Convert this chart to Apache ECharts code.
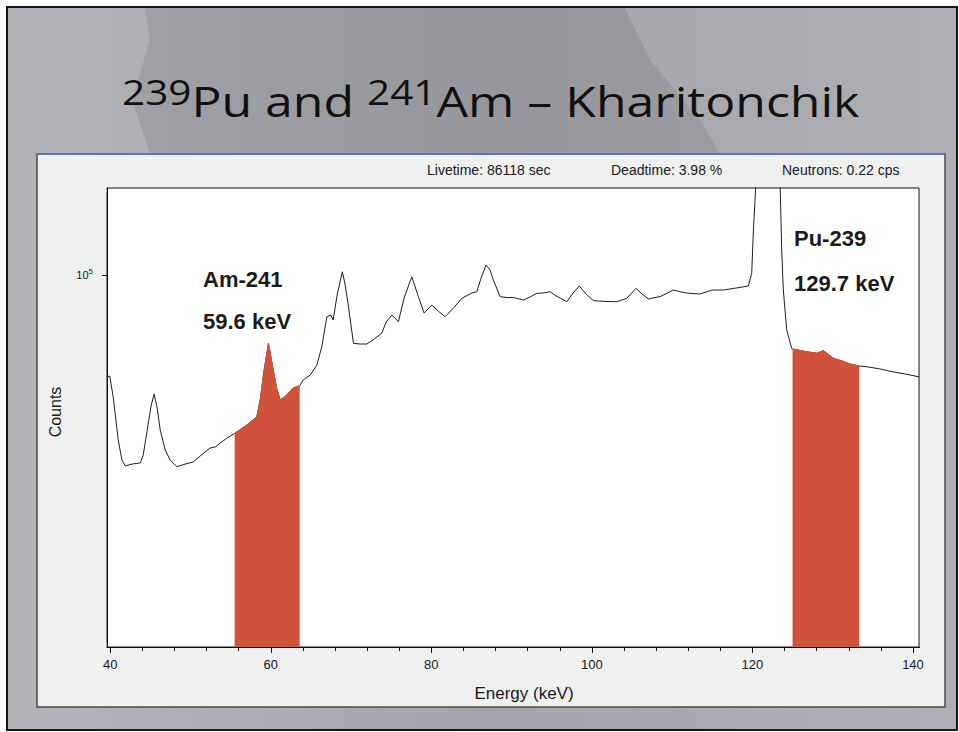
<!DOCTYPE html>
<html><head><meta charset="utf-8">
<script src="https://cdn.jsdelivr.net/npm/echarts@6/dist/echarts.min.js"></script>
<style>html,body{margin:0;padding:0;background:#fff;}#c{width:959px;height:732px;}</style>
</head><body><div id="c"></div>
<script>
// Energy (keV) and counts
const energy = [39.6, 39.94, 40.37, 41.0, 41.46, 41.87, 42.74, 43.74, 44.11, 44.61,
  45.11, 45.48, 45.85, 46.23, 46.85, 47.47, 48.31, 49.34, 50.34, 51.21,
  52.45, 53.08, 53.70, 54.57, 55.5, 57.02, 58.27, 58.68, 59.18, 59.71,
  60.30, 60.73, 61.17, 62.00, 62.79, 63.6, 64.03, 64.91, 65.74, 66.36,
  66.99, 67.48, 67.77, 68.27, 68.92, 69.27, 69.68, 70.30, 71.13, 71.97,
  72.75, 73.84, 74.37, 75.08, 75.90, 76.61, 77.57, 78.39, 79.10, 80.06,
  80.85, 81.72, 82.75, 83.80, 85.04, 85.67, 86.20, 86.82, 87.32, 87.73,
  88.57, 89.44, 90.22, 91.47, 92.30, 93.14, 93.92, 94.79, 95.54, 96.04,
  96.87, 97.66, 98.44, 99.28, 100.19, 101.64, 103.10, 104.35, 105.50, 106.25,
  107.04, 107.87, 108.49, 110.15, 111.73, 113.47, 114.97, 116.38, 117.96, 119.49,
  119.91, 120.11, 120.32, 120.53, 121.0, 121.8, 122.6, 123.2, 123.44, 123.65,
  123.85, 124.27, 124.89, 125.0, 126.55, 128.01, 128.83, 130.08, 131.16, 132.16,
  133.3, 134.24, 135.89, 137.55, 139.0, 140.75];
const counts = [64300, 64600, 58980, 48960, 44900, 43770, 44140, 44340, 45890, 51120,
  56970, 59740, 56230, 51120, 46900, 44900, 43630, 44140, 44540, 45700,
  47310, 47520, 48340, 49400, 50400, 52250, 54160, 58220, 66300, 74400,
  66300, 61320, 58220, 59500, 61320, 61900, 63470, 64860, 67730, 73330,
  83490, 84100, 82300, 91700, 101420, 95750, 87170, 74400, 74190, 74190,
  75480, 77800, 81580, 84100, 81700, 90530, 99250, 91040, 84830, 87800,
  85570, 83490, 86680, 90400, 92500, 93010, 98700, 104400, 102160, 97840,
  91040, 90720, 90720, 89750, 90930, 92380, 92500, 93010, 91310, 90530,
  89080, 92500, 95350, 92100, 89480, 89170, 89080, 90400, 94380, 92100,
  90150, 90720, 91040, 93700, 92500, 92100, 93700, 93700, 94520, 95350,
  100720, 119900, 138290, 160000, 300000, 420000, 400000, 260000, 150000, 111420,
  93700, 78830, 72830, 72600, 71830, 71270, 72080, 69740, 68930, 68040,
  67450, 67250, 66590, 65740, 65170, 64360];
// Regions of interest (keV)
const roiAm241 = [55.5, 63.6];
const roiPu239 = [125.0, 133.3];
// Axis ticks
const xTicks = [40, 60, 80, 100, 120, 140];
const yTicks = [100000];
// Texts
const titleParts = ['239', 'Pu and ', '241', 'Am \u2013 Kharitonchik'];
const headerTexts = ['Livetime: 86118 sec', 'Deadtime: 3.98 %', 'Neutrons: 0.22 cps'];
const amLabels = ['Am-241', '59.6 keV'];
const puLabels = ['Pu-239', '129.7 keV'];

const F = 'Liberation Sans, Arial, sans-serif';
const RED = '#d1523a';
const PANEL = '#eff0f0';
const spectrum = energy.map((e, i) => [e, counts[i]]);
const roi = r => spectrum.filter(p => p[0] >= r[0] && p[0] <= r[1]);

const chart = echarts.init(document.getElementById('c'), null, {renderer: 'svg'});
const txt = (t, x, y, size, weight) => ({
  type: 'text', x: x, y: y, z: 50,
  style: {text: t, fill: '#1a1a1a', font: (weight || 'normal') + ' ' + size + 'px ' + F, verticalAlign: 'middle', textAlign: 'left'}
});
// small panel-coloured patches that hide the extra ticks ECharts puts at the axis ends
const cover = (x, y, w, h) => ({type: 'rect', z: 60, shape: {x: x, y: y, width: w, height: h}, style: {fill: PANEL}});
chart.setOption({
  animation: false,
  backgroundColor: '#ffffff',
  graphic: {elements: [
    {type: 'rect', z: -100, shape: {x: 7, y: 7, width: 950, height: 723},
      style: {fill: new echarts.graphic.LinearGradient(0, 0, 1, 0, [
        {offset: 0, color: '#b3b4b8'}, {offset: 0.5, color: '#a4a5a9'}, {offset: 1, color: '#aeafb3'}]),
        stroke: '#161616', lineWidth: 2}},
    {type: 'polygon', z: -99, shape: {points: [[145, 8], [625, 8], [650, 60], [700, 120], [720, 154], [150, 154], [132, 100], [150, 40]]},
      style: {fill: 'rgba(70,70,76,0.14)'}},
    {type: 'rect', z: -98, shape: {x: 37, y: 154, width: 908, height: 553},
      style: {fill: PANEL, stroke: '#4a4a4a', lineWidth: 1.5}},
    {type: 'line', z: -97, shape: {x1: 37, y1: 154, x2: 945, y2: 154}, style: {stroke: '#5b7db5', lineWidth: 1.5}},
    {type: 'text', x: 122, y: 74.6, z: 50, scaleX: 1.19, style: {
      text: '{s|' + titleParts[0] + '}{m|' + titleParts[1] + '}{s|' + titleParts[2] + '}{m|' + titleParts[3] + '}',
      rich: {
        s: {fontFamily: 'Open Sans', fontSize: 34, lineHeight: 28, verticalAlign: 'top', fill: '#111'},
        m: {fontFamily: 'Open Sans', fontSize: 42, lineHeight: 52, fill: '#111'}
      }}},
    txt(headerTexts[0], 427, 170, 14),
    txt(headerTexts[1], 611, 170, 14),
    txt(headerTexts[2], 782, 170, 14),
    txt(amLabels[0], 203, 279, 22, 'bold'),
    txt(amLabels[1], 203, 321, 22, 'bold'),
    txt(puLabels[0], 794, 238, 22, 'bold'),
    txt(puLabels[1], 794, 283, 22, 'bold'),
    cover(98, 183, 8.4, 9),
    cover(98, 642, 8.4, 9),
    cover(104, 648, 4.6, 9),
    cover(917.6, 648, 6, 9)
  ]},
  grid: {left: 107, top: 188, width: 812, height: 459, show: true, borderColor: '#111', borderWidth: 1, backgroundColor: '#ffffff'},
  xAxis: {
    type: 'value', min: 39.6, max: 140.75, splitNumber: 5,
    axisLine: {show: true, onZero: false, lineStyle: {color: '#111', width: 1}},
    axisTick: {show: true, inside: false, length: 6, lineStyle: {color: '#111', width: 1}},
    minorTick: {show: true, splitNumber: 5, length: 4, lineStyle: {color: '#111', width: 1}},
    axisLabel: {customValues: xTicks, margin: 11, fontSize: 13, fontFamily: F, color: '#1a1a1a'},
    splitLine: {show: false},
    name: 'Energy (keV)', nameLocation: 'middle', nameGap: 38,
    nameTextStyle: {fontSize: 17, fontFamily: F, color: '#1a1a1a', padding: [0, 0, 0, 22]}
  },
  yAxis: {
    type: 'log', logBase: 10, min: 20000, max: 145700,
    axisLine: {show: true, lineStyle: {color: '#111', width: 1}},
    axisTick: {show: true, inside: false, length: 5, lineStyle: {color: '#111', width: 1}},
    minorTick: {show: false},
    axisLabel: {customValues: yTicks, margin: 14, color: '#1a1a1a',
      formatter: v => '{b|10}{s|' + Math.round(Math.log10(v)) + '}',
      rich: {b: {fontSize: 11, fontFamily: F, lineHeight: 14}, s: {fontSize: 8, fontFamily: F, lineHeight: 9, verticalAlign: 'top'}}},
    splitLine: {show: false},
    name: 'Counts', nameLocation: 'middle', nameGap: 44, nameRotate: 90,
    nameTextStyle: {fontSize: 16, fontFamily: F, color: '#1a1a1a', padding: [0, 0, 0, 11]}
  },
  series: [
    {type: 'line', data: spectrum, symbol: 'none', lineStyle: {color: '#1e1e1e', width: 1}, z: 2, clip: true},
    {type: 'line', data: roi(roiAm241), symbol: 'none', lineStyle: {color: RED, width: 1},
      areaStyle: {color: RED, opacity: 1, origin: 'start'}, z: 3},
    {type: 'line', data: roi(roiPu239), symbol: 'none', lineStyle: {color: RED, width: 1},
      areaStyle: {color: RED, opacity: 1, origin: 'start'}, z: 3}
  ]
});
</script></body></html>
